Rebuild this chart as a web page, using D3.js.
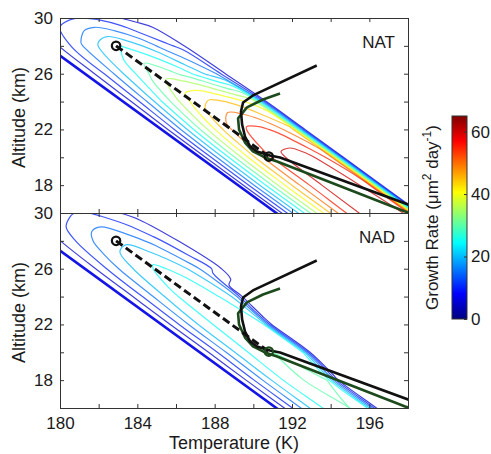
<!DOCTYPE html>
<html>
<head>
<meta charset="utf-8">
<script src="https://cdn.jsdelivr.net/npm/d3@7"></script>
<style>
  body{margin:0;background:#fff;}
  svg{font-family:"Liberation Sans",Arial,Helvetica,sans-serif;}
</style>
</head>
<body>
<svg id="chart" width="491" height="454"></svg>
<script>
/* growth-rate contours, NAT (top) and NAD (bottom) */

// ---------- DATA ----------
// growth-rate grid: rows = altitude (km), cols = K warmer than the ice line
const ALT_ROWS = [34, 32, 30, 28, 26, 24, 22, 20, 18, 16, 14];
const U_COLS   = [-0.6, 0, 1, 2, 3, 3.8, 4.6, 5.3, 5.8, 6.3, 6.8, 7.5, 8.0];

const NAT_RATE = [
  [0, 0,  0,  0,  0,  0,  0,  0,  0,  0,  0, 0, 0],
  [0, 0,  1,  2,  3,  3,  3,  2,  1,  1,  0, 0, 0],
  [0, 0,  4,  7,  9, 10,  9,  7,  5,  4,  3, 0, 0],
  [0, 0,  8, 16, 22, 25, 22, 18, 14, 11,  9, 0, 0],
  [0, 0, 10, 20, 28, 33, 31, 27, 23, 19, 15, 0, 0],
  [0, 0, 12, 25, 36, 43, 46, 45, 43, 40, 37, 0, 0],
  [0, 0, 15, 30, 43, 52, 56, 56, 54, 50, 46, 0, 0],
  [0, 0, 17, 33, 47, 56, 61, 62, 61, 57, 52, 0, 0],
  [0, 0, 18, 34, 48, 56, 62, 63, 63, 60, 56, 0, 0],
  [0, 0, 18, 34, 48, 57, 62, 64, 64, 62, 58, 0, 0],
  [0, 0, 18, 34, 48, 57, 62, 64, 64, 62, 58, 0, 0]
];

const NAD_RATE = [
  [0, 0,  0,  0,  0,  0,  0,  0,  0,  0, 0, 0, 0],
  [0, 0,  1,  2,  3,  3,  3,  2,  1,  1, 0, 0, 0],
  [0, 0,  4,  7,  9, 11,  9,  7,  5,  4, 3, 0, 0],
  [0, 0,  7, 13, 18, 19, 17, 14, 11,  8, 5, 0, 0],
  [0, 0,  9, 17, 23, 26, 24, 20, 16, 12, 8, 0, 0],
  [0, 0, 10, 19, 26, 28, 27, 23, 18,  0, 0, 0, 0],
  [0, 0, 11, 21, 27, 29, 28, 25,  0,  0, 0, 0, 0],
  [0, 0, 11, 22, 28, 30, 29, 26,  0,  0, 0, 0, 0],
  [0, 0, 12, 23, 29, 31, 30,  0,  0,  0, 0, 0, 0],
  [0, 0, 12, 23, 28, 30, 29,  0,  0,  0, 0, 0, 0],
  [0, 0, 12, 23, 28, 30, 29,  0,  0,  0, 0, 0, 0]
];

const LEVELS = [5, 10, 15, 20, 25, 30, 35, 40, 45, 50, 55, 60];

// ice line (thick blue), [T, alt]
const ICE_LINE = [[179, 28.31], [193, 14.17]];

// trajectories [T (K), alt (km)]
const PATH_BLACK = [
  [193.28, 26.59], [189.98, 24.44], [189.47, 23.93], [189.36, 23.29],
  [189.42, 22.35], [189.57, 21.49], [189.83, 20.78], [190.19, 20.42],
  [190.86, 20.13], [191.38, 19.99], [198.0, 16.61], [198.6, 16.30]
];
const PATH_GREEN = [
  [191.38, 24.58], [190.50, 24.15], [189.67, 23.58], [189.21, 22.79],
  [189.26, 22.00], [189.57, 21.06], [189.98, 20.42], [190.60, 19.99],
  [191.23, 19.70], [197.85, 16.11], [198.5, 15.80]
];
const DASH_ENDS = [[182.9, 28.0], [190.8, 20.05]];

const X_TICKS  = [180, 182, 184, 186, 188, 190, 192, 194, 196, 198];
const X_LABELS = [180, 184, 188, 192, 196];
const Y_TICKS  = [16, 18, 20, 22, 24, 26, 28, 30];
const Y_LABELS = [18, 22, 26, 30];
const CB_TICKS = [0, 20, 40, 60];
const CB_MAX   = 65;

// ---------- LAYOUT ----------
const X0 = 60, X1 = 408;
const PANELS = [
  {name:"NAT", rate:NAT_RATE, top:18,  bottom:213, lowColor:"#111"},
  {name:"NAD", rate:NAD_RATE, top:213, bottom:408, lowColor:"#1d4a1d"}
];
const INK = "#1a1a1a";

const svg = d3.select("#chart");
const x = d3.scaleLinear().domain([180, 198]).range([X0, X1]);

// jet colormap
const JET_STOPS = [0, 0.125, 0.375, 0.625, 0.875, 1];
const JET_COLS  = ["#00007f", "#0000ff", "#00ffff", "#ffff00", "#ff0000", "#7f0000"];
const jet = d3.scaleLinear().domain(JET_STOPS.map(s => s * CB_MAX)).range(JET_COLS).clamp(true);

// ice line as alt -> T, band coordinate u is measured from it
const iceT = d3.scaleLinear().domain([ICE_LINE[0][1], ICE_LINE[1][1]])
                             .range([ICE_LINE[0][0], ICE_LINE[1][0]]);
const colU   = d3.scaleLinear().domain(d3.range(U_COLS.length)).range(U_COLS);
const rowAlt = d3.scaleLinear().domain([0, ALT_ROWS.length - 1])
                               .range([ALT_ROWS[0], ALT_ROWS[ALT_ROWS.length - 1]]);

const contourGen = d3.contours().size([U_COLS.length, ALT_ROWS.length]).thresholds(LEVELS);
const ringLine = d3.line().curve(d3.curveCatmullRomClosed.alpha(0.5));

PANELS.forEach((p, pi) => {
  const y = d3.scaleLinear().domain([16, 30]).range([p.bottom, p.top]);
  const g = svg.append("g");
  const clipId = "clip" + pi;
  svg.append("clipPath").attr("id", clipId)
    .append("rect").attr("x", X0).attr("y", p.top).attr("width", X1 - X0).attr("height", p.bottom - p.top);

  const plot = g.append("g").attr("clip-path", `url(#${clipId})`);

  // grid coordinate -> screen
  const toXY = ([gx, gy]) => {
    const alt = rowAlt(gy - 0.5);
    const T = iceT(alt) + colU(gx - 0.5);
    return [x(T), y(alt)];
  };

  contourGen(p.rate.flat()).forEach(c => {
    c.coordinates.forEach(poly => poly.forEach(ring => {
      plot.append("path")
        .attr("d", ringLine(ring.slice(0, -1).map(toXY)))
        .attr("fill", "none")
        .attr("stroke", jet(c.value))
        .attr("stroke-width", 1.2)
        .attr("stroke-opacity", 0.75);
    }));
  });

  // thick ice line
  plot.append("path")
    .attr("d", d3.line().x(d => x(d[0])).y(d => y(d[1]))(ICE_LINE))
    .attr("fill", "none").attr("stroke", "#1414e6").attr("stroke-width", 2.6);

  const traj = d3.line().x(d => x(d[0])).y(d => y(d[1]));
  plot.append("path").attr("d", traj(PATH_GREEN))
    .attr("fill", "none").attr("stroke", "#1d4a1d").attr("stroke-width", 2.6)
    .attr("stroke-linejoin", "round");
  plot.append("path").attr("d", traj(PATH_BLACK))
    .attr("fill", "none").attr("stroke", "#111").attr("stroke-width", 2.6)
    .attr("stroke-linejoin", "round");

  plot.append("path").attr("d", traj(DASH_ENDS))
    .attr("fill", "none").attr("stroke", "#111").attr("stroke-width", 3)
    .attr("stroke-dasharray", "8,4");

  plot.selectAll("circle.end").data(DASH_ENDS).enter().append("circle")
    .attr("class", "end")
    .attr("cx", d => x(d[0])).attr("cy", d => y(d[1])).attr("r", 4.2)
    .attr("fill", "none").attr("stroke-width", 2.2)
    .attr("stroke", (d, i) => i === 0 ? "#111" : p.lowColor);

  // axes: inward ticks on all four sides
  const fmtX = d => (pi === 1 && X_LABELS.includes(d)) ? d : "";
  const fmtY = d => Y_LABELS.includes(d) ? d : "";
  g.append("g").attr("transform", `translate(0,${p.bottom})`)
    .call(d3.axisBottom(x).tickValues(X_TICKS).tickSize(-4).tickPadding(9).tickFormat(fmtX));
  g.append("g").attr("transform", `translate(0,${p.top})`)
    .call(d3.axisTop(x).tickValues(X_TICKS).tickSize(-4).tickFormat(""));
  g.append("g").attr("transform", `translate(${X0},0)`)
    .call(d3.axisLeft(y).tickValues(Y_TICKS).tickSize(-4).tickPadding(7).tickFormat(fmtY));
  g.append("g").attr("transform", `translate(${X1},0)`)
    .call(d3.axisRight(y).tickValues(Y_TICKS).tickSize(-4).tickFormat(""));

  g.append("text").attr("x", 395).attr("y", p.top + 30)
    .attr("text-anchor", "end").attr("font-size", 17).attr("fill", INK).text(p.name);

  g.append("text")
    .attr("transform", `translate(25,${(p.top + p.bottom) / 2 + 2}) rotate(-90)`)
    .attr("text-anchor", "middle").attr("font-size", 18).attr("fill", INK)
    .text("Altitude (km)");
});

svg.selectAll(".domain").attr("stroke", "#333");
svg.selectAll(".tick line").attr("stroke", "#333");
svg.selectAll(".tick text").attr("font-size", 17).attr("fill", INK)
   .attr("font-family", '"Liberation Sans",Arial,sans-serif');

svg.append("text").attr("x", (X0 + X1) / 2).attr("y", 449)
  .attr("text-anchor", "middle").attr("font-size", 18).attr("fill", INK)
  .text("Temperature (K)");

// ---------- COLORBAR ----------
const CB = {x:452, w:15, top:116, bottom:319};
const cb = d3.scaleLinear().domain([0, CB_MAX]).range([CB.bottom, CB.top]);
const grad = svg.append("defs").append("linearGradient")
  .attr("id", "jetGrad").attr("x1", 0).attr("y1", 1).attr("x2", 0).attr("y2", 0);
grad.selectAll("stop").data(JET_STOPS).enter().append("stop")
  .attr("offset", d => d).attr("stop-color", (d, i) => JET_COLS[i]);
svg.append("rect").attr("x", CB.x).attr("y", CB.top).attr("width", CB.w)
  .attr("height", CB.bottom - CB.top).attr("fill", "url(#jetGrad)")
  .attr("stroke", "#333").attr("stroke-width", 1);
const cbAxis = svg.append("g").attr("transform", `translate(${CB.x + CB.w},0)`)
  .call(d3.axisRight(cb).tickValues(CB_TICKS).tickSize(-3).tickPadding(4));
cbAxis.select(".domain").remove();
cbAxis.selectAll(".tick line").attr("stroke", "#333");
cbAxis.selectAll(".tick text").attr("font-size", 17).attr("fill", INK)
  .attr("font-family", '"Liberation Sans",Arial,sans-serif');

const cbLab = svg.append("text")
  .attr("transform", `translate(438,${(CB.top + CB.bottom) / 2}) rotate(-90)`)
  .attr("text-anchor", "middle").attr("font-size", 17).attr("fill", INK);
cbLab.append("tspan").text("Growth Rate (\u03bcm");
cbLab.append("tspan").attr("dy", -7).attr("font-size", 12).text("2");
cbLab.append("tspan").attr("dy", 7).text(" day");
cbLab.append("tspan").attr("dy", -7).attr("font-size", 12).text("-1");
cbLab.append("tspan").attr("dy", 7).text(")");
</script>
</body>
</html>
